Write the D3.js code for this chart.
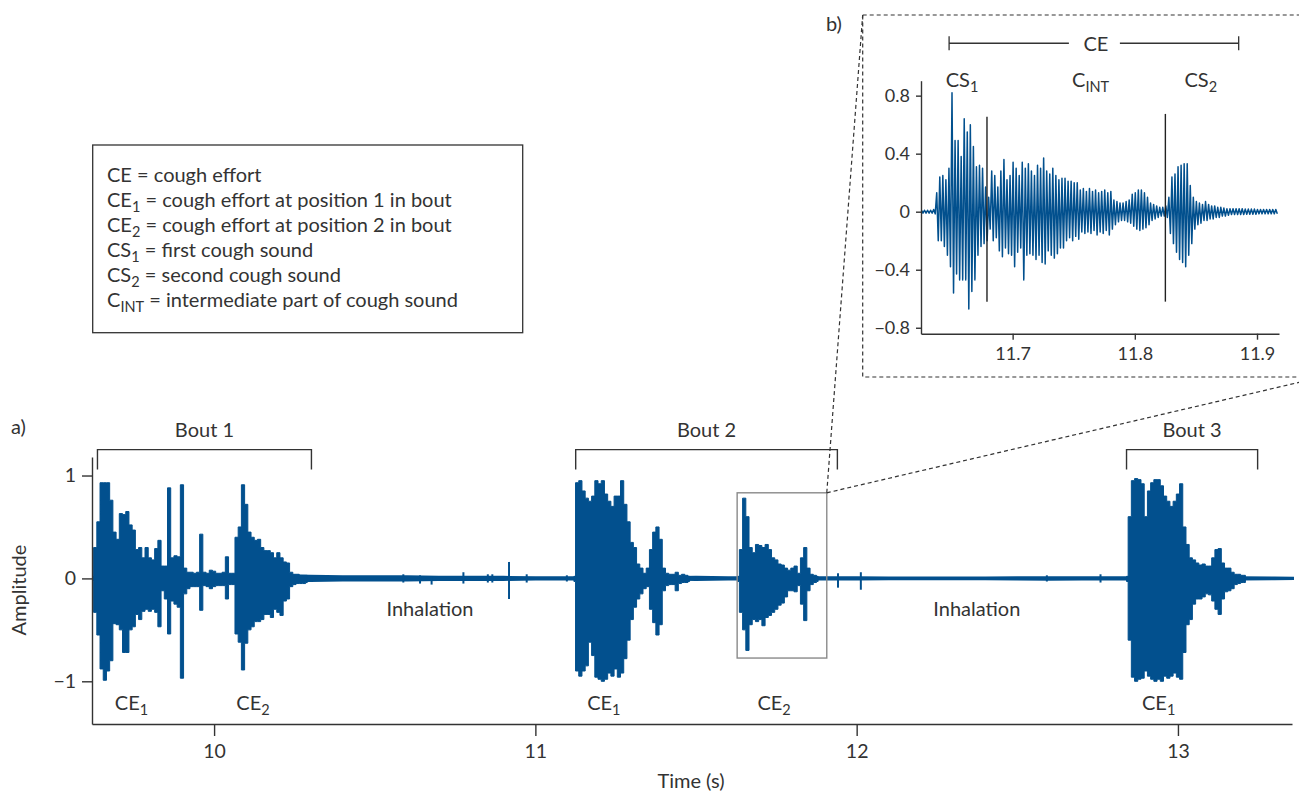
<!DOCTYPE html>
<html>
<head>
<meta charset="utf-8">
<script src="https://cdn.jsdelivr.net/npm/d3@7"></script>
<style>
body { margin: 0; background: #fff; }
text { font-family: Lato, "Source Sans Pro", "Noto Sans", sans-serif; fill: #333; }
</style>
</head>
<body>
<script>

// ---- data: waveform envelopes (max / min per time step) ----
var envStep = 0.01;

var bout1Start = 9.62;
var bout1Hi = [0.03,0.3,0.55,0.93,0.93,0.93,0.76,0.45,0.38,0.63,0.62,0.65,0.52,0.47,0.28,0.3,0.2,0.3,0.2,0.18,
  0.29,0.37,0.12,0.12,0.88,0.2,0.22,0.21,0.91,0.1,0.06,0.06,0.05,0.06,0.43,0.06,0.05,0.08,0.07,0.05,
  0.05,0.06,0.21,0.05,0.05,0.4,0.5,0.91,0.72,0.45,0.4,0.37,0.38,0.3,0.27,0.27,0.25,0.2,0.25,0.2,
  0.16,0.15,0.06,0.04,0.04,0.03,0.03,0.03];
var bout1Lo = [-0.03,-0.33,-0.55,-0.88,-0.99,-0.9,-0.8,-0.44,-0.45,-0.5,-0.72,-0.72,-0.5,-0.47,-0.35,-0.4,-0.32,-0.3,-0.32,-0.3,
  -0.33,-0.47,-0.12,-0.2,-0.54,-0.22,-0.25,-0.28,-0.97,-0.15,-0.1,-0.08,-0.08,-0.08,-0.31,-0.07,-0.08,-0.1,-0.08,-0.07,
  -0.07,-0.07,-0.2,-0.06,-0.06,-0.54,-0.62,-0.89,-0.63,-0.5,-0.47,-0.42,-0.42,-0.4,-0.35,-0.35,-0.38,-0.3,-0.33,-0.36,
  -0.22,-0.2,-0.08,-0.06,-0.05,-0.05,-0.05,-0.04];

var bout2aStart = 11.12;
var bout2aHi = [0.02,0.93,0.95,0.85,0.78,0.75,0.8,0.95,0.92,0.95,0.82,0.75,0.7,0.8,0.8,0.95,0.72,0.55,0.35,0.3,
  0.14,0.1,0.05,0.1,0.28,0.45,0.5,0.38,0.1,0.05,0.04,0.04,0.06,0.03,0.04,0.03,0.02];
var bout2aLo = [-0.03,-0.9,-0.95,-0.9,-0.85,-0.62,-0.75,-0.96,-0.98,-1.0,-0.98,-0.92,-0.95,-0.88,-0.96,-0.92,-0.78,-0.6,-0.4,-0.28,
  -0.2,-0.15,-0.1,-0.08,-0.3,-0.43,-0.55,-0.45,-0.12,-0.07,-0.06,-0.06,-0.12,-0.05,-0.04,-0.04,-0.03];

var bout2bStart = 11.63;
var bout2bHi = [0.02,0.28,0.78,0.6,0.3,0.25,0.33,0.32,0.3,0.33,0.28,0.2,0.18,0.14,0.13,0.1,0.08,0.1,0.12,0.05,
  0.2,0.3,0.1,0.04,0.03,0.02];
var bout2bLo = [-0.03,-0.33,-0.5,-0.7,-0.45,-0.4,-0.42,-0.4,-0.46,-0.38,-0.36,-0.33,-0.3,-0.26,-0.24,-0.18,-0.12,-0.12,-0.13,-0.07,
  -0.25,-0.41,-0.12,-0.06,-0.04,-0.03];

var bout3Start = 12.84;
var bout3Hi = [0.02,0.6,0.95,0.97,0.96,0.92,0.6,0.85,0.93,0.96,0.96,0.9,0.8,0.75,0.7,0.75,0.82,0.92,0.5,0.33,
  0.2,0.18,0.15,0.13,0.14,0.12,0.12,0.2,0.28,0.29,0.15,0.1,0.1,0.06,0.04,0.04,0.03,0.03];
var bout3Lo = [-0.03,-0.6,-0.96,-1.0,-0.98,-0.97,-0.9,-0.95,-0.98,-1.0,-0.98,-1.0,-0.95,-0.97,-0.95,-0.92,-0.96,-0.98,-0.72,-0.45,
  -0.4,-0.25,-0.2,-0.2,-0.18,-0.15,-0.16,-0.22,-0.3,-0.35,-0.2,-0.13,-0.12,-0.1,-0.06,-0.05,-0.04,-0.04];

// background noise level (symmetric), every 0.1 s
var noiseStart = 9.6, noiseStep = 0.1;
var noiseAmp = [0.02,0.03,0.04,0.04,0.04,0.04,0.04,0.035,0.03,0.03,0.03,0.025,0.025,0.025,0.02,0.02,0.02,0.02,0.02,0.025,
  0.02,0.02,0.02,0.02,0.02,0.018,0.018,0.018,0.018,0.02,0.022,0.02,0.02,0.02,0.02,0.02,0.02,0.018,0.015];

// isolated clicks during inhalation
var clickT  = [10.589,10.641,10.677,10.776,10.852,10.866,10.918,10.973,11.098,11.942,12.013,12.592,12.759];
var clickHi = [0.04,0.03,0.02,0.06,0.04,0.04,0.16,0.04,0.03,0.05,0.06,0.03,0.04];
var clickLo = [-0.04,-0.05,-0.06,-0.05,-0.04,-0.04,-0.2,-0.04,-0.03,-0.09,-0.11,-0.03,-0.04];

// inset b): zoomed envelope of bout 2 / CE2
var insetStart = 11.626, insetStep = 0.0025;
var insetHi = [0.01,0.01,0.01,0.01,0.015, 0.13,0.24,0.25,0.22,0.3, 0.82,0.49,0.49,0.38,0.64, 0.55,0.6,0.45,0.31,0.32,
  0.3,0.17,0.1,0.28,0.25, 0.17,0.28,0.36,0.22,0.25, 0.34,0.3,0.25,0.34,0.3, 0.33,0.28,0.25,0.32,0.3,
  0.37,0.28,0.26,0.3,0.25, 0.22,0.23,0.23,0.21,0.21, 0.2,0.2,0.15,0.16,0.14, 0.16,0.14,0.15,0.13,0.14,
  0.15,0.13,0.14,0.08,0.07, 0.06,0.06,0.07,0.08,0.12, 0.13,0.15,0.15,0.13,0.1, 0.06,0.05,0.04,0.03,0.03,
  0.04,0.1,0.24,0.26,0.31, 0.32,0.33,0.33,0.18,0.1, 0.07,0.06,0.05,0.07,0.05, 0.04,0.04,0.03,0.03,0.025,
  0.02,0.02,0.02,0.02,0.02, 0.02,0.018,0.018,0.018,0.018, 0.015,0.015,0.015,0.015,0.015,0.015,0.015];
var insetLo = [-0.01,-0.01,-0.01,-0.01,-0.015, -0.2,-0.2,-0.24,-0.3,-0.38, -0.56,-0.43,-0.47,-0.47,-0.47, -0.67,-0.55,-0.47,-0.3,-0.24,
  -0.22,-0.2,-0.12,-0.2,-0.18, -0.27,-0.31,-0.25,-0.29,-0.3, -0.38,-0.28,-0.25,-0.47,-0.3, -0.29,-0.3,-0.33,-0.3,-0.35,
  -0.36,-0.27,-0.3,-0.32,-0.29, -0.25,-0.25,-0.2,-0.18,-0.2, -0.17,-0.19,-0.14,-0.15,-0.14, -0.15,-0.13,-0.16,-0.14,-0.15,
  -0.13,-0.16,-0.12,-0.09,-0.07, -0.06,-0.06,-0.07,-0.08,-0.1, -0.12,-0.13,-0.12,-0.11,-0.09, -0.06,-0.05,-0.04,-0.03,-0.03,
  -0.04,-0.15,-0.22,-0.28,-0.33, -0.35,-0.38,-0.3,-0.22,-0.12, -0.09,-0.08,-0.06,-0.06,-0.05, -0.05,-0.04,-0.04,-0.03,-0.03,
  -0.025,-0.02,-0.02,-0.02,-0.02, -0.02,-0.018,-0.018,-0.018,-0.018, -0.015,-0.015,-0.015,-0.015,-0.015,-0.015,-0.015];

// ticks
var mainXTicks = [10, 11, 12, 13];
var mainYTicks = [-1, 0, 1];
var insetXTicks = [11.7, 11.8, 11.9];
var insetYTicks = [-0.8, -0.4, 0, 0.4, 0.8];

// annotations
var boutNames = ["Bout 1", "Bout 2", "Bout 3"];
var boutStart = [9.637, 11.1255, 12.84];
var boutEnd = [10.303, 11.94, 13.248];
var ceNames = [["CE","1"], ["CE","2"], ["CE","1"], ["CE","2"], ["CE","1"]];
var ceT = [9.743, 10.121, 11.213, 11.743, 12.94];
var inhaleT = [10.672, 12.374];
var zoomBox = {t0: 11.628, t1: 11.907, a0: -0.774, a1: 0.832};

var csNames = [["CS","1"], ["C","INT"], ["CS","2"]];
var csT = [11.6586, 11.7638, 11.854];
var csMarkT = [11.679, 11.825];
var csMarkTop = [0.655, 0.674];
var csMarkBottom = -0.62;
var ceSpan = [11.648, 11.885];

var legendItems = [
  ["CE", "", " = cough effort"],
  ["CE", "1", " = cough effort at position 1 in bout"],
  ["CE", "2", " = cough effort at position 2 in bout"],
  ["CS", "1", " = first cough sound"],
  ["CS", "2", " = second cough sound"],
  ["C", "INT", " = intermediate part of cough sound"]
];

// ---- drawing ----
var blue = "#02508e";
var ink = "#333";
var fs = 20;

var svg = d3.select("body").append("svg")
  .attr("width", 1299)
  .attr("height", 794);

var x = d3.scaleLinear().domain([9.62, 13.355]).range([92, 1292]);
var y = d3.scaleLinear().domain([-1.415, 1.18]).range([724, 457]);

var xi = d3.scaleLinear().domain([11.625, 11.918]).range([921, 1279]);
var yi = d3.scaleLinear().domain([-0.841, 0.903]).range([333.7, 80.7]);

function envelope(start, step, hi, lo) {
  return hi.map(function(h, i) { return {t: start + i * step, hi: h, lo: lo[i]}; });
}

svg.append("clipPath").attr("id", "mainclip")
  .append("rect").attr("x", 92).attr("y", 440).attr("width", 1202).attr("height", 290);

var wave = svg.append("g").attr("clip-path", "url(#mainclip)");

// noise floor
wave.append("path")
  .datum(noiseAmp.map(function(a, i) { return {t: noiseStart + i * noiseStep, hi: a, lo: -a}; }))
  .attr("fill", blue)
  .attr("d", d3.area()
    .x(function(d) { return x(d.t); })
    .y0(function(d) { return y(d.lo); })
    .y1(function(d) { return y(d.hi); }));

var segments = [
  envelope(bout1Start, envStep, bout1Hi, bout1Lo),
  envelope(bout2aStart, envStep, bout2aHi, bout2aLo),
  envelope(bout2bStart, envStep, bout2bHi, bout2bLo),
  envelope(bout3Start, envStep, bout3Hi, bout3Lo)
];

var stepArea = d3.area()
  .curve(d3.curveStep)
  .x(function(d) { return x(d.t); })
  .y0(function(d) { return y(d.lo); })
  .y1(function(d) { return y(d.hi); });

wave.selectAll(".seg")
  .data(segments)
  .enter()
  .append("path")
  .attr("class", "seg")
  .attr("fill", blue)
  .attr("stroke", blue)
  .attr("stroke-width", 1)
  .attr("d", stepArea);

wave.selectAll(".click")
  .data(clickT)
  .enter()
  .append("line")
  .attr("class", "click")
  .attr("x1", function(d) { return x(d); })
  .attr("x2", function(d) { return x(d); })
  .attr("y1", function(d, i) { return y(clickHi[i]); })
  .attr("y2", function(d, i) { return y(clickLo[i]); })
  .attr("stroke", blue)
  .attr("stroke-width", 2);

// main axes
function styleAxis(g, size) {
  g.attr("font-family", null).attr("font-size", size);
  g.selectAll("path, line").attr("stroke", ink).attr("stroke-width", 1.4);
  g.selectAll("text").attr("fill", ink);
}

svg.append("g")
  .attr("transform", "translate(92,0)")
  .call(d3.axisLeft(y).tickValues(mainYTicks).tickSize(10).tickPadding(6).tickSizeOuter(0)
    .tickFormat(d3.format("d")))
  .call(styleAxis, 19.5);

svg.append("g")
  .attr("transform", "translate(0,724)")
  .call(d3.axisBottom(x).tickValues(mainXTicks).tickSize(12).tickPadding(8).tickSizeOuter(0)
    .tickFormat(d3.format("d")))
  .call(styleAxis, 19.5);

// text helper with subscript
function subText(g, px, py, main, sub, rest, anchor, size, subSize) {
  var t = g.append("text")
    .attr("x", px).attr("y", py)
    .attr("font-size", size)
    .attr("text-anchor", anchor);
  t.append("tspan").text(main);
  if (sub) t.append("tspan").attr("dy", 5).attr("font-size", subSize).text(sub);
  if (rest) t.append("tspan").attr("dy", sub ? -5 : 0).text(rest);
  return t;
}

var ann = svg.append("g");

// bout brackets
boutNames.forEach(function(name, i) {
  var x0 = x(boutStart[i]), x1 = x(boutEnd[i]);
  ann.append("path")
    .attr("d", "M" + x0 + "," + y(1.058) + "V" + y(1.252) + "H" + x1 + "V" + y(1.058))
    .attr("fill", "none").attr("stroke", ink).attr("stroke-width", 1.4);
  ann.append("text")
    .attr("x", (x0 + x1) / 2).attr("y", y(1.375))
    .attr("text-anchor", "middle").attr("font-size", fs)
    .text(name);
});

ceNames.forEach(function(c, i) {
  subText(ann, x(ceT[i]), y(-1.28), c[0], c[1], null, "middle", fs, 14.5);
});

inhaleT.forEach(function(t) {
  ann.append("text")
    .attr("x", x(t)).attr("y", y(-0.366))
    .attr("text-anchor", "middle").attr("font-size", fs)
    .text("Inhalation");
});

// zoom box + connectors
ann.append("rect")
  .attr("x", x(zoomBox.t0)).attr("y", y(zoomBox.a1))
  .attr("width", x(zoomBox.t1) - x(zoomBox.t0))
  .attr("height", y(zoomBox.a0) - y(zoomBox.a1))
  .attr("fill", "none").attr("stroke", "#8a8a8a").attr("stroke-width", 1.4);

var inset = {left: 862.7, top: 15, right: 1322, bottom: 377};
var cx = x(zoomBox.t1), cy = y(zoomBox.a1);

ann.append("rect")
  .attr("x", inset.left).attr("y", inset.top)
  .attr("width", inset.right - inset.left).attr("height", inset.bottom - inset.top)
  .attr("fill", "none").attr("stroke", ink).attr("stroke-width", 1.2)
  .attr("stroke-dasharray", "4,3");

[[inset.left, inset.top], [inset.right, inset.bottom]].forEach(function(p) {
  ann.append("line")
    .attr("x1", cx).attr("y1", cy).attr("x2", p[0]).attr("y2", p[1])
    .attr("stroke", ink).attr("stroke-width", 1.2).attr("stroke-dasharray", "4,3");
});

// panel letters and axis titles
ann.append("text").attr("x", 11).attr("y", 434).attr("font-size", fs).text("a)");
ann.append("text").attr("x", 826).attr("y", 31).attr("font-size", fs).text("b)");
ann.append("text")
  .attr("transform", "translate(26,590) rotate(-90)")
  .attr("text-anchor", "middle").attr("font-size", fs)
  .text("Amplitude");
ann.append("text")
  .attr("x", 691).attr("y", 788)
  .attr("text-anchor", "middle").attr("font-size", fs)
  .text("Time (s)");

// legend
var legend = svg.append("g");
legend.append("rect")
  .attr("x", 92.7).attr("y", 145).attr("width", 430).attr("height", 187.7)
  .attr("fill", "none").attr("stroke", ink).attr("stroke-width", 1.3);
legendItems.forEach(function(item, i) {
  subText(legend, 107, 182 + i * 24.9, item[0], item[1], item[2], "start", fs, 14.5);
});

// ---- inset b) ----
var ins = svg.append("g");

var zig = [];
envelope(insetStart, insetStep, insetHi, insetLo).forEach(function(d) {
  zig.push([d.t - insetStep / 4, d.hi]);
  zig.push([d.t + insetStep / 4, d.lo]);
});

ins.append("path")
  .datum(zig)
  .attr("fill", "none")
  .attr("stroke", blue)
  .attr("stroke-width", 1.5)
  .attr("stroke-linejoin", "round")
  .attr("d", d3.line()
    .x(function(d) { return xi(d[0]); })
    .y(function(d) { return yi(d[1]); }));

csMarkT.forEach(function(t, i) {
  ins.append("line")
    .attr("x1", xi(t)).attr("x2", xi(t))
    .attr("y1", yi(csMarkTop[i])).attr("y2", yi(csMarkBottom))
    .attr("stroke", "#222").attr("stroke-width", 1.4);
});

ins.append("g")
  .attr("transform", "translate(921,0)")
  .call(d3.axisLeft(yi).tickValues(insetYTicks).tickSize(5).tickPadding(6).tickSizeOuter(0)
    .tickFormat(function(d) { return d === 0 ? "0" : d3.format(".1f")(d); }))
  .call(styleAxis, 18);

ins.append("g")
  .attr("transform", "translate(0,333.7)")
  .call(d3.axisBottom(xi).tickValues(insetXTicks).tickSize(6).tickPadding(8).tickSizeOuter(0)
    .tickFormat(d3.format(".1f")))
  .call(styleAxis, 18);

// CE span bracket
var cex0 = xi(ceSpan[0]), cex1 = xi(ceSpan[1]), cey = yi(1.161);
var ceMid = (cex0 + cex1) / 2 + 2;
ins.append("path")
  .attr("d", "M" + cex0 + "," + (cey - 7) + "V" + (cey + 7) + "M" + cex0 + "," + cey + "H" + (ceMid - 27) +
    "M" + (ceMid + 24) + "," + cey + "H" + cex1 + "M" + cex1 + "," + (cey - 7) + "V" + (cey + 7))
  .attr("fill", "none").attr("stroke", ink).attr("stroke-width", 1.3);
ins.append("text")
  .attr("x", ceMid).attr("y", cey + 8)
  .attr("text-anchor", "middle").attr("font-size", fs)
  .text("CE");

csNames.forEach(function(c, i) {
  subText(ins, xi(csT[i]), yi(0.862), c[0], c[1], null, "middle", fs, 14.5);
});

</script>
</body>
</html>
